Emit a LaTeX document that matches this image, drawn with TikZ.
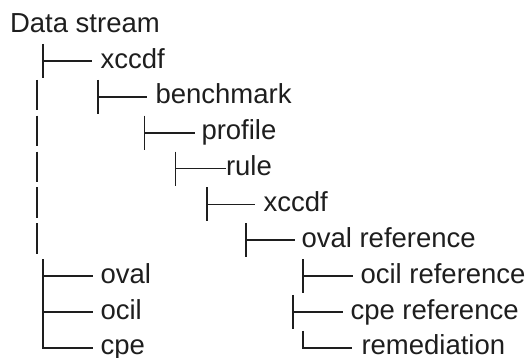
\documentclass[tikz,border=0pt]{standalone}
\usepackage{fontspec}
\setmainfont{Liberation Sans}
\definecolor{ink}{HTML}{1E1E1E}
\newcommand{\lblfont}{\fontsize{27.5pt}{33pt}\selectfont}
\tikzset{
  lbl/.style={anchor=base west, inner sep=0pt, outer sep=0pt, text=ink, font=\lblfont},
  br/.style={draw=ink, line width=1.8pt},
  pipe/.style={draw=ink, line width=1.8pt}
}
\begin{document}
\begin{tikzpicture}[x=1pt,y=-1pt]
\useasboundingbox (0,0) rectangle (532,358);
% labels
\node[lbl] (n0) at (10,32.25) {Data stream};
\node[lbl] (n1) at (100.5,68.1) {xccdf};
\node[lbl] (n2) at (155.5,103.95) {benchmark};
\node[lbl] (n3) at (201.5,139.8) {profile};
\node[lbl] (n4) at (226,175.65) {rule};
\node[lbl] (n5) at (263.5,211.5) {xccdf};
\node[lbl] (n6) at (301.5,247.35) {oval reference};
\node[lbl] (n7) at (100.5,283.2) {oval};
\node[lbl] (n8) at (100.5,319.05) {ocil};
\node[lbl] (n9) at (100.5,354.9) {cpe};
\node[lbl] (r7) at (360.5,283.2) {ocil reference};
\node[lbl] (r8) at (350.5,319.05) {cpe reference};
\node[lbl] (r9) at (361.5,354.9) {remediation};
% bar tops
\coordinate (b1) at (43,44);
\coordinate (b2) at (98,79.85);
\coordinate (b3) at (144.5,115.7);
\coordinate (b4) at (175.5,151.55);
\coordinate (b5) at (207,187.4);
\coordinate (b6) at (246,223.25);
\coordinate (bl) at (43,259.1);
\coordinate (c7) at (303,259.1);
\coordinate (c8) at (293,294.95);
\coordinate (c9) at (303,330.8);
% branch ends (next to the labels)
\coordinate (e1) at (92,61);
\coordinate (e2) at (147,96.85);
\coordinate (e3) at (195,132.7);
\coordinate (e4) at (226,168.55);
\coordinate (e5) at (255,204.4);
\coordinate (e6) at (295,240.25);
\coordinate (e7) at (93,276.1);
\coordinate (e8) at (93,311.95);
\coordinate (e9) at (93,347.8);
\coordinate (f7) at (353,276.1);
\coordinate (f8) at (343,311.95);
\coordinate (f9) at (352,347.8);
% pipes
\foreach \m in {96.85,132.7,168.55,204.4,240.25}
  \draw[pipe] (37,\m-17) -- (37,\m+13.5);
% branches
\draw[br] (b1) -- ++(0,34) (b1 |- e1) -- (e1);
\draw[br] (b2) -- ++(0,34) (b2 |- e2) -- (e2);
\draw[br] (b3) -- ++(0,34) (b3 |- e3) -- (e3);
\draw[br] (b4) -- ++(0,34) (b4 |- e4) -- (e4);
\draw[br] (b5) -- ++(0,34) (b5 |- e5) -- (e5);
\draw[br] (b6) -- ++(0,34) (b6 |- e6) -- (e6);
\draw[br] (bl) -- (bl |- e9) -- (e9);
\draw[br] (bl |- e7) -- (e7);
\draw[br] (bl |- e8) -- (e8);
\draw[br] (c7) -- ++(0,34) (c7 |- f7) -- (f7);
\draw[br] (c8) -- ++(0,34) (c8 |- f8) -- (f8);
\draw[br] (c9) -- (c9 |- f9) -- (f9);
\end{tikzpicture}
\end{document}
